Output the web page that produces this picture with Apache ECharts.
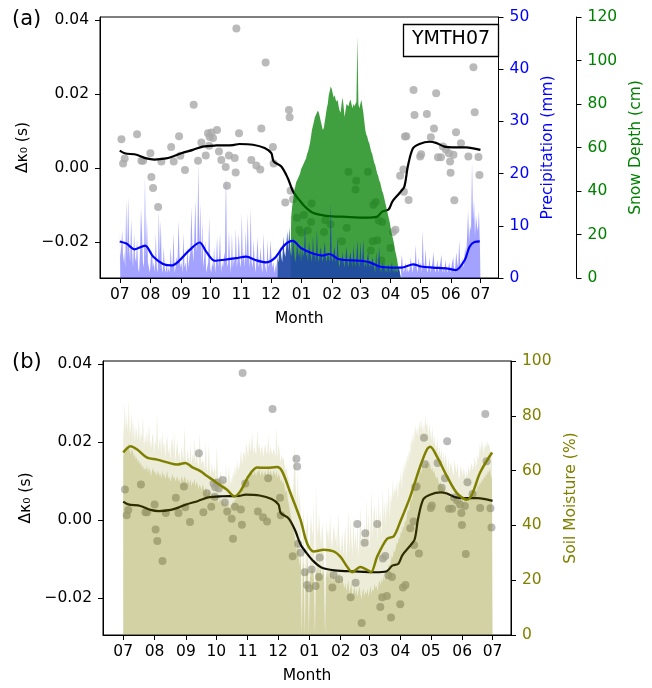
<!DOCTYPE html>
<html><head><meta charset="utf-8">
<script src="https://cdn.jsdelivr.net/npm/echarts@6/dist/echarts.min.js"></script>
<style>html,body{margin:0;padding:0;background:#fff}#c{width:652px;height:688px}</style>
</head><body><div id="c"></div>
<script>
// ---------- data ----------
const monthTickDays = [0,31,62,92,123,153,184,215,243,274,304,335,365];
const monthLabels = ['07','08','09','10','11','12','01','02','03','04','05','06','07'];
const kappaTicks = [-0.02, 0, 0.02, 0.04];

// daily precipitation (mm), day 0 = 1 July
const precip = [
9.2,4,6,9.2,3,5,2,15,4,15.6,
6,3,11.4,5,2,8.6,4,3,7.6,2,
1,5,13.4,8.6,3,2,19.4,4,11.8,3,
2,1,4,5.4,2,3,1,8.6,2,1,
13,4,11,2,1,6,2,1,3,1,
2,1,6,2,3,8.6,1,2,4,3,
11,4,2,3,1,8.6,2,3,1,6,
2,4,5,13.7,6,3,8,15,5,7,
22,6,14.3,3,11,2,4,7.3,1,2,
3,11.8,2,1,3,2,6,1,3,7.9,
2,4,8.6,1,3,2,4,5,20,3,
2,9.2,3,1,8.6,2,4,3,9.5,2,
4,8.6,3,2,12.4,3,5,2,9.2,3,
12.4,4,2,13.4,3,2,7.3,3,1,4,
7.9,2,3,6,2,1,8.6,3,2,1,
7.3,2,3,7.3,4,2,3,1,2,3,
4,3,5,6,4,3,8,5,4,6,
9,5,9.8,6,4,5,8,5,3,4,
7,5,4,6,3,6,4,5,9.8,4,
5,3,7,5,4,3,8,4,5,3,
9.2,4,3,5,6,4,3,5,7,4,
3,5,4,3,14.3,4,3,5,6,3,
4,8,3,2,4,3,5,3,2,4,
6,3,2,4,5,3,2,6.3,3,2,
4,7.3,3,2,7,3,4,7.3,2,3,
2,4,5,2,3,2,4,3,2,1,
5,2,3,6,2,1,3,2,3,1,
2,1,2.6,2,1,2,3,1,2,1,
2,1,1,2,1,2,4.5,2,1,2,
3,1,2,1,2,4,2,1,3,2,
6.3,2,1,4,2,3,1,9.2,3,2,
5.6,2,1,2,4,1,2,3,5,2,
1,2,3.5,1,2,3,4.5,1,2,1,
3.5,2,1,2,3,1,2,2,4,1,
2,5,3,2,7.3,3,2,4,2,3,
6,4,8,13,7,10,9,22.2,11,15,
8,12,10,9,13,6
];

// snow depth (cm), starting at day 173
const snowStartDay = 173;
const snowDepth = [
15,28,33,36,40,42,44,
45,46,47,48,50,51,52,53,54,55,
57,58,60,62,65,68,70,72,74,75,
76,77,76,74,72,70,68,69,72,75,
78,80,84,86,88,87,85,83,84,82,
81,82,79,77,76,80,83,79,74,77,
80,80,79,81,82,80,78,80,79,80,
81,111,80,78,80,82,79,76,72,68,
66,65,63,62,60,58,57,55,53,52,
50,48,47,45,44,42,40,39,37,35,
33,31,29,27,25,22,20,18,16,13,
11,9,6,4,2
];

// daily soil moisture (%): typical level and daily peak
const soilLow = [
65,66,68,67,69,68,70,67,66,68,
67,65,66,64,65,63,64,62,63,61,
62,60,61,60,62,59,61,60,58,60,
61,59,60,58,59,60,58,59,57,60,
58,59,57,58,60,57,58,56,57,59,
57,58,56,57,58,56,57,55,58,57,
56,58,57,55,57,56,55,57,54,56,
55,57,54,56,55,53,55,54,53,55,
54,52,54,53,51,53,52,50,52,51,
50,52,49,51,50,48,50,49,47,49,
48,47,49,46,48,47,46,48,47,49,
48,50,49,51,52,51,53,54,53,55,
56,55,57,58,57,59,58,60,59,58,
60,59,58,60,59,61,58,59,60,58,
59,60,58,59,61,58,60,59,58,60,
59,58,60,57,59,58,56,57,55,56,
54,52,53,50,48,46,44,42,40,38,
36,33,30,35,28,25,30,0,27,24,
0,26,22,28,0,24,21,25,23,20,
0,24,22,26,21,25,23,20,24,22,
0,23,21,25,20,24,22,19,23,21,
20,22,19,21,23,18,20,22,19,17,
19,16,18,20,15,17,19,14,16,18,
15,17,14,16,18,15,13,16,17,14,
16,15,17,14,16,18,15,17,16,19,
17,18,16,19,20,18,21,19,22,20,
22,24,23,26,25,27,29,28,31,30,
32,34,33,36,35,38,37,40,39,42,
41,44,46,45,48,50,49,52,54,53,
55,57,56,58,60,59,61,62,60,63,
62,64,61,63,62,60,61,59,60,58,
57,58,56,55,56,54,55,53,54,52,
53,51,52,50,51,52,50,49,51,50,
49,51,50,48,50,49,51,48,50,49,
50,48,51,49,52,50,53,51,54,52,
53,55,54,56,55,57,56,58,57,59,
58,60,59,61,58,57
];
const soilHigh = [
78,72,85,75,80,74,86,73,76,81,
72,78,70,76,74,71,79,70,74,72,
80,68,73,70,75,69,77,71,68,72,
74,66,71,69,81,67,70,72,66,75,
68,71,65,70,73,66,69,64,70,72,
66,74,63,68,71,65,67,62,69,66,
64,76,66,62,68,65,63,70,62,66,
64,72,62,68,63,61,74,65,62,64,
63,60,71,62,59,70,61,58,63,60,
59,62,57,69,60,56,58,60,55,57,
56,55,63,54,57,62,54,58,55,60,
57,62,58,64,60,61,63,68,62,66,
67,64,70,68,65,72,67,69,74,66,
69,67,66,75,68,70,66,68,69,65,
68,70,66,67,73,65,69,67,66,68,
67,65,76,64,70,67,63,66,64,65,
62,60,61,58,57,55,54,52,50,58,
69,55,48,60,45,52,43,0,40,47,
0,42,38,46,0,35,44,39,36,48,
0,55,40,36,45,38,33,41,37,30,
0,42,36,39,33,44,35,31,38,40,
34,37,31,45,36,30,33,38,29,35,
40,28,34,46,30,42,35,29,44,32,
38,30,43,28,36,47,31,39,33,42,
30,50,36,45,31,40,53,35,44,48,
38,47,33,52,40,45,36,54,42,49,
40,50,45,55,42,52,48,57,50,54,
52,56,49,57,55,60,53,62,58,64,
60,66,63,68,65,72,69,74,70,77,
73,76,72,78,75,79,74,77,73,80,
76,78,72,77,74,71,76,70,73,69,
68,72,66,69,65,68,63,67,62,66,
64,60,65,59,63,62,60,58,64,61,
59,63,58,57,62,60,58,61,59,57,
60,58,62,59,61,63,60,62,65,61,
63,66,64,70,67,71,69,66,70,68,
71,69,70,68,66,64
];

// daily delta-kappa0 measurements
const kappaDays = [1.7,3.4,5.0,17.5,21.9,23.6,31,32,33.7,38.8,42.1,52,54.6,60,61.3,66,74.8,79.2,82.6,87,89.3,90.5,91,92.7,94.4,98.4,100.4,102.8,107.2,108.5,110.5,116.3,117.3,118,120.7,133.1,138.2,142.2,143.3,147.6,155,155.7,167.5,171.2,171.9,172.9,175.3,179.4,181.7,183.7,186.3,190.2,193.5,194.2,206.7,208,213.3,224.8,229.7,231.4,235.7,238.6,239.3,251.1,254.1,256,256.7,259,260.6,262,264.7,265.6,273.8,276.5,279,283.7,287,287.5,288.6,290,292.3,297.3,298.3,304,305,310.8,314.8,318,320.2,322,325,327,330,333,334.3,334.8,337.7,338.6,340.3,345.3,352.8,357.9,359.2,363,364];
const kappaVals = [0.0078,0.0012,0.0026,0.0091,0.0020,0.0020,0.0040,-0.0024,-0.0054,-0.0105,0.0018,0.0057,0.0018,0.0086,0.0033,-0.0005,0.0171,0.0020,0.0069,0.0034,0.0094,0.0060,0.0084,0.0096,0.0081,0.0103,0.0045,0.0022,0.0003,-0.0048,0.0034,0.0027,-0.0012,0.0377,0.0094,0.0022,0.0007,-0.0004,0.0107,0.0285,0.0057,0.0012,-0.0093,0.0157,0.0137,-0.0061,-0.0084,-0.0134,-0.0167,-0.0175,-0.0127,-0.0169,-0.0146,-0.0096,-0.0173,-0.0141,-0.0152,-0.0198,-0.0161,-0.0010,-0.0264,-0.0058,-0.0034,-0.0010,-0.0223,-0.0198,-0.0099,-0.0092,-0.0195,-0.0142,-0.0250,-0.0146,-0.0216,-0.0173,-0.0167,-0.0021,-0.0004,-0.0064,0.0085,0.0086,-0.0086,0.0211,0.0143,0.0031,0.0037,0.0146,0.0083,0.0107,0.0202,0.0029,0.0029,0.0058,0.0050,0.0040,0.0018,-0.0013,0.0036,-0.0087,0.0097,0.0067,0.0031,0.0272,0.0151,0.0030,-0.0019];

// smoothed delta-kappa0
const kappaSmoothDays = [0,5,17,27,35,47,55.6,62.3,74,84,97.8,114.6,121,134.8,146.6,153.4,155.7,163.5,170,175.3,181.3,187,195.4,209,229,249,260,266,272,276,283,288,291.5,296.6,303.3,313.4,320,328.6,337,350.5,365];
const kappaSmoothVals = [0.0047,0.0040,0.0036,0.0026,0.0023,0.0026,0.0033,0.0040,0.0049,0.0058,0.0061,0.0062,0.0065,0.0063,0.0054,0.0040,0.0018,0.0004,-0.0027,-0.0063,-0.0085,-0.0103,-0.0121,-0.0129,-0.0132,-0.0134,-0.0132,-0.0117,-0.0112,-0.0090,-0.0068,-0.0050,0.0004,0.0053,0.0065,0.0071,0.0068,0.0058,0.0056,0.0056,0.0049];

// smoothed precipitation (mm)
const precipSmoothDays = [0,6.7,15,25.6,33.7,43.8,52.2,59,70.8,80.9,87.6,96,106,118,128,138,148,156.7,166.8,175,183.7,195.4,205,212,222,243,253,263,276,285,297,305,317,332,340,349,354,359,364.3];
const precipSmoothVals = [7.0,6.6,5.5,6.2,4.1,2.7,2.4,3.1,5.4,6.8,5.0,3.3,3.5,3.8,4.1,3.4,3.0,3.8,6.3,7.1,5.7,4.7,4.3,4.6,3.6,3.3,3.0,2.2,2.0,2.0,2.6,2.2,2.0,1.8,1.5,3.4,6.0,6.9,7.0];

// smoothed soil moisture (%)
const soilSmoothDays = [0,7.2,13.8,23.6,33.5,43.4,53.2,61.5,68,76.3,82.9,92.7,102.6,109.8,115.8,124,132.2,142,152,157,165.3,175.2,181.7,188.3,198.2,208,214.6,221.2,226.2,234.4,241,245,251,260.8,267.4,274,283.8,293.6,300.2,303.5,310,319.9,329.8,339.7,344.6,352.8,364.6];
const soilSmoothVals = [66.6,68.9,67.7,64.7,64,63,62.2,62.8,61.3,59.8,58,55.5,53,50.6,52.5,58,61.1,61,61.3,59.8,51.8,42.1,33.5,30.5,31.1,30.5,28.6,25,22.9,24.8,23.8,22.9,28.6,35.1,36,41.5,50.6,61.6,67.7,68.7,65.2,58,51.8,49.4,51.2,59.3,66.6];

// ---------- chart ----------
const FONT = 'DejaVu Sans';
const pairs = (xs, ys) => xs.map((x, i) => [x, ys[i]]);
const daily = arr => arr.map((v, i) => [i, v]);
const snowData = snowDepth.map((v, i) => [snowStartDay + i, v]);
const winterStart = 160, winterEnd = 284;
const isWinter = d => d >= winterStart && d <= winterEnd;
const precipSummer = precip.map((v, i) => [i, isWinter(i) ? null : v]);
const precipWinter = precip.map((v, i) => [i, isWinter(i) ? v : null]);
const fmtK = v => (v < 0 ? '\u2212' : '') + Math.abs(v).toFixed(2);
const monthFmt = v => { const i = monthTickDays.indexOf(Math.round(v)); return i >= 0 ? monthLabels[i] : ''; };

const X_MIN = -20, X_MAX = 383.3;
const GA = { left: 100, top: 17, width: 399, height: 261 };
const GB = { left: 103, top: 361, width: 408, height: 274 };

function xAxisCfg(gi) {
  return {
    gridIndex: gi, type: 'value', min: X_MIN, max: X_MAX,
    splitLine: { show: false },
    axisLine: { show: true, onZero: false, lineStyle: { color: '#000', width: 1 } },
    axisTick: { show: true, customValues: monthTickDays, length: 5, lineStyle: { color: '#000' } },
    axisLabel: { customValues: monthTickDays, formatter: monthFmt, fontSize: 15.5, fontFamily: FONT, color: '#000', margin: 9 },
    name: 'Month', nameLocation: 'middle', nameGap: 33,
    nameTextStyle: { fontSize: 15.5, fontFamily: FONT, color: '#000' }
  };
}
function kappaAxis(gi, mn, mx) {
  return {
    gridIndex: gi, type: 'value', position: 'left', min: mn, max: mx,
    splitLine: { show: false },
    axisLine: { show: true, onZero: false, lineStyle: { color: '#000' } },
    axisTick: { show: true, customValues: kappaTicks, length: 5, lineStyle: { color: '#000' } },
    axisLabel: { customValues: kappaTicks, formatter: fmtK, fontSize: 15.5, fontFamily: FONT, color: '#000', margin: 11 },
    name: '\u0394\u03BA\u2080 (s)', nameLocation: 'middle', nameGap: 62, nameRotate: 90,
    nameTextStyle: { fontSize: 15.5, fontFamily: FONT, color: '#000' }
  };
}
function rightAxis(gi, mx, itv, color, name, offset, nameGap) {
  return {
    gridIndex: gi, type: 'value', position: 'right', offset: offset, min: 0, max: mx, interval: itv,
    splitLine: { show: false },
    axisLine: { show: true, onZero: false, lineStyle: { color: '#000' } },
    axisTick: { show: true, length: 5, lineStyle: { color: '#000' } },
    axisLabel: { fontSize: 15.5, fontFamily: FONT, color: color, margin: 11 },
    name: name, nameLocation: 'middle', nameGap: nameGap, nameRotate: 90,
    nameTextStyle: { fontSize: 15.5, fontFamily: FONT, color: color }
  };
}
// daily histogram drawn as a stepped filled area (one step per day)
function stepArea(xi, yi, data, color, z) {
  return {
    type: 'line', xAxisIndex: xi, yAxisIndex: yi, data: data, step: 'middle',
    showSymbol: false, symbol: 'none', connectNulls: false,
    lineStyle: { width: 0 }, areaStyle: { color: color, opacity: 1 }, z: z
  };
}

const dotColor = '#a9a9a9';
const option = {
  animation: false,
  backgroundColor: '#fff',
  textStyle: { fontFamily: FONT },
  grid: [
    Object.assign({ show: true, borderColor: '#000', borderWidth: 1, backgroundColor: 'transparent' }, GA),
    Object.assign({ show: true, borderColor: '#000', borderWidth: 1, backgroundColor: 'transparent' }, GB)
  ],
  title: [{
    text: 'YMTH07', left: 403, top: 24, padding: [6, 9, 8, 9], borderColor: '#000', borderWidth: 1.3,
    textStyle: { fontSize: 19, fontWeight: 'normal', fontFamily: FONT, color: '#000' }
  }],
  graphic: [
    { type: 'text', left: 12, top: 9, style: { text: '(a)', fontSize: 21, fontFamily: FONT, fill: '#000' } },
    { type: 'text', left: 12, top: 352, style: { text: '(b)', fontSize: 21, fontFamily: FONT, fill: '#000' } }
  ],
  xAxis: [xAxisCfg(0), xAxisCfg(1)],
  yAxis: [
    kappaAxis(0, -0.0297, 0.0408),
    rightAxis(0, 50, 10, '#0000ff', 'Precipitation (mm)', 0, 38),
    rightAxis(0, 120, 20, '#008000', 'Snow Depth (cm)', 78, 43),
    kappaAxis(1, -0.0295, 0.0408),
    rightAxis(1, 100, 20, '#808000', 'Soil Moisture (%)', 0, 50)
  ],
  series: [
    // panel (a): points and fit underneath the translucent snow / rain histograms
    { type: 'scatter', xAxisIndex: 0, yAxisIndex: 0, data: pairs(kappaDays, kappaVals), symbolSize: 8,
      itemStyle: { color: dotColor }, z: 1 },
    { type: 'line', xAxisIndex: 0, yAxisIndex: 0, data: pairs(kappaSmoothDays, kappaSmoothVals), smooth: 0.3,
      showSymbol: false, lineStyle: { color: '#000', width: 2.2 }, z: 2 },
    stepArea(0, 2, snowData, 'rgba(0,128,0,0.75)', 3),
    stepArea(0, 1, precipSummer, 'rgba(0,0,255,0.36)', 4),
    stepArea(0, 1, precipWinter, 'rgba(30,70,165,0.92)', 4),
    { type: 'line', xAxisIndex: 0, yAxisIndex: 1, data: pairs(precipSmoothDays, precipSmoothVals), smooth: 0.3,
      showSymbol: false, lineStyle: { color: '#0000ff', width: 2.2 }, z: 5 },
    // panel (b)
    { type: 'scatter', xAxisIndex: 1, yAxisIndex: 3, data: pairs(kappaDays, kappaVals), symbolSize: 8,
      itemStyle: { color: dotColor }, z: 1 },
    { type: 'line', xAxisIndex: 1, yAxisIndex: 3, data: pairs(kappaSmoothDays, kappaSmoothVals), smooth: 0.3,
      showSymbol: false, lineStyle: { color: '#000', width: 2.2 }, z: 2 },
    stepArea(1, 4, daily(soilHigh), 'rgba(128,128,0,0.15)', 3),
    stepArea(1, 4, daily(soilLow), 'rgba(128,128,0,0.24)', 4),
    { type: 'line', xAxisIndex: 1, yAxisIndex: 4, data: pairs(soilSmoothDays, soilSmoothVals), smooth: 0.3,
      showSymbol: false, lineStyle: { color: '#808000', width: 2.5 }, z: 5 }
  ]
};
const chart = echarts.init(document.getElementById('c'), null, { renderer: 'canvas' });
chart.setOption(option);
</script>
</body></html>
